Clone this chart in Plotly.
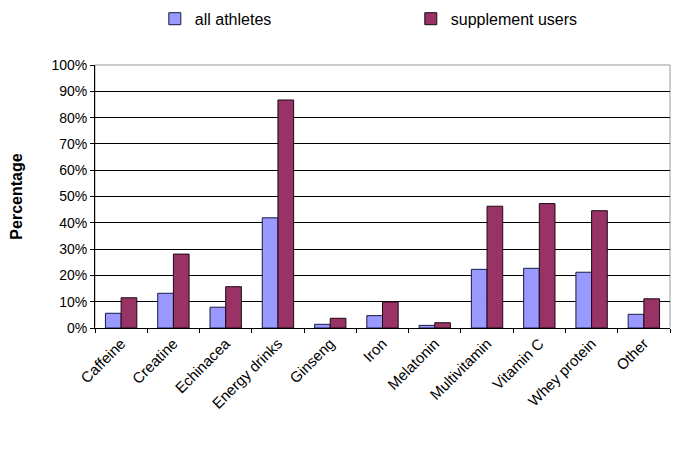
import plotly.graph_objects as go

categories = ["Caffeine", "Creatine", "Echinacea", "Energy drinks", "Ginseng", "Iron",
              "Melatonin", "Multivitamin", "Vitamin C", "Whey protein", "Other"]
all_athletes = [5.6, 13.2, 7.9, 41.9, 1.4, 4.7, 1.0, 22.3, 22.7, 21.2, 5.2]
supplement_users = [11.5, 28.1, 15.7, 86.7, 3.7, 9.9, 2.0, 46.3, 47.3, 44.6, 11.1]
y_ticks = list(range(0, 101, 10))
y_labels = [f"{v}%" for v in y_ticks]

FONT = "Liberation Sans, Arial, sans-serif"

fig = go.Figure()
fig.add_trace(go.Bar(x=categories, y=all_athletes, name="all athletes",
                     marker=dict(color="#9999FF", line=dict(color="#1a1a40", width=1))))
fig.add_trace(go.Bar(x=categories, y=supplement_users, name="supplement users",
                     marker=dict(color="#993366", line=dict(color="#1a0a14", width=1))))

fig.update_layout(
    width=685, height=450,
    margin=dict(l=87, r=23, t=57, b=130, autoexpand=False),
    paper_bgcolor="white", plot_bgcolor="white",
    barmode="group", bargap=0.4, bargroupgap=0,
    font=dict(family=FONT, size=13, color="black"),
    showlegend=True,
    legend=dict(orientation="h", x=0.104, xanchor="left", yref="container", y=0.976, yanchor="middle",
                font=dict(size=16, family=FONT), entrywidth=211, itemwidth=30,
                bgcolor="rgba(0,0,0,0)"),
    xaxis=dict(tickangle=-45, showline=True, linecolor="black", linewidth=1,
               ticks="outside", tickson="boundaries", ticklen=4, tickcolor="black",
               tickfont=dict(size=15, family=FONT), mirror=False, automargin=False),
    yaxis=dict(range=[0, 100], tickvals=y_ticks, ticktext=y_labels,
               showline=True, linecolor="black", linewidth=1,
               ticks="outside", ticklen=4, tickcolor="black",
               showgrid=True, gridcolor="black", gridwidth=1,
               tickfont=dict(size=14, family=FONT), automargin=False,
               title=dict(text="<b>Percentage</b>", font=dict(size=16, family=FONT), standoff=32)),
)
fig.add_shape(type="rect", xref="paper", yref="paper", x0=0, y0=0, x1=1, y1=1,
              line=dict(color="#999999", width=1), layer="below")

fig.write_html("out.html")
